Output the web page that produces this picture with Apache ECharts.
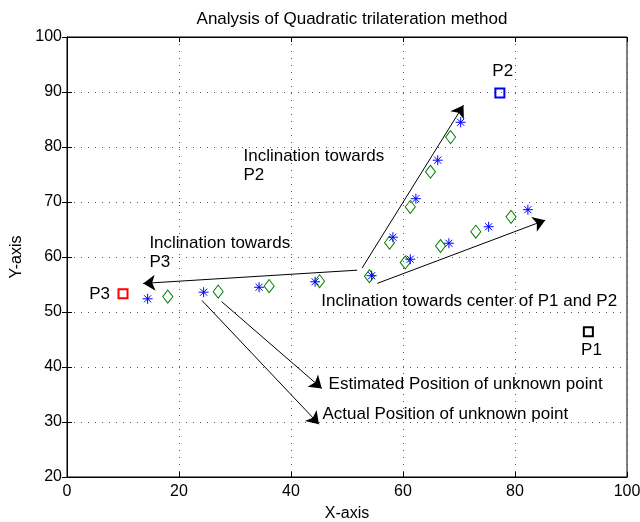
<!DOCTYPE html>
<html><head><meta charset="utf-8">
<script src="https://cdn.jsdelivr.net/npm/echarts@6/dist/echarts.min.js"></script>
<style>html,body{margin:0;padding:0;background:#fff}#c{width:640px;height:522px}</style>
</head><body><div id="c"></div>
<script>
// ---- data ----
const actualPos = [[14.4,52.4],[24.4,53.6],[34.3,54.5],[44.3,55.5],[54.4,56.6],
  [58.2,63.6],[62.3,70.6],[66.2,77.6],[70.3,84.5],
  [61.3,59.6],[68.2,62.5],[75.3,65.5],[82.3,68.6]];
const estimatedPos = [[18.0,52.8],[27.0,53.7],[36.1,54.7],[45.1,55.6],[54.0,56.5],
  [57.6,62.6],[61.3,69.1],[64.9,75.5],[68.5,81.8],
  [60.4,59.0],[66.7,62.0],[73.0,64.6],[79.3,67.3]];
const anchorP1 = [[93.1,46.4]];
const anchorP2 = [[77.3,89.8]];
const anchorP3 = [[10.0,53.3]];
const arrowLines = [
  [[52.7,58.0],[70.8,87.6]],
  [[51.8,57.6],[13.6,55.2]],
  [[55.4,55.2],[85.4,66.7]],
  [[27.6,51.9],[45.5,36.1]],
  [[24.1,52.1],[45.0,29.6]]
];
const noteTexts = ['Inclination towards\nP2','Inclination towards\nP3','Inclination towards center of P1 and P2',
  'Estimated Position of unknown point','Actual Position of unknown point'];
const notePos = [[31.6,80.0],[14.8,64.2],[45.5,53.5],[46.8,38.4],[45.7,33.1]];
const pointNames = ['P2','P1','P3'];
const pointNamePos = [[77.9,93.6],[93.75,42.9],[5.9,53.1]];
const xTicks = {min:0,max:100,interval:20};
const yTicks = {min:20,max:100,interval:10};

// ---- chart ----
const FONT = 'Liberation Sans';
const FS = 16;
const NFS = 17;
const chart = echarts.init(document.getElementById('c'), null, {renderer:'canvas'});
const splitStyle = {show:true, lineStyle:{color:'#555', width:1, type:[1,6]}};
const tick = {show:true, inside:true, length:5, lineStyle:{color:'#000'}};
const star = 'path://M0,-10L0,10M-10,0L10,0M-7.07,-7.07L7.07,7.07M-7.07,7.07L7.07,-7.07';

const noteData = noteTexts.map((t,i)=>({value:[notePos[i][0],notePos[i][1]], label:{formatter:t}}));
const nameData = pointNames.map((t,i)=>({value:[pointNamePos[i][0],pointNamePos[i][1]], label:{formatter:t}}));

chart.setOption({
  animation:false,
  backgroundColor:'#fff',
  title:{text:'Analysis of Quadratic trilateration method', left:347, top:6, textAlign:'center',
    textStyle:{fontFamily:FONT, fontSize:17, fontWeight:'normal', color:'#000'}},
  grid:{left:67, right:13, top:37, bottom:45, show:true, borderColor:'#000', borderWidth:1,
    containLabel:false, outerBoundsMode:'none'},
  xAxis:[
    {type:'value', min:xTicks.min, max:xTicks.max, interval:xTicks.interval, position:'bottom',
     name:'X-axis', nameLocation:'middle', nameGap:29,
     nameTextStyle:{fontFamily:FONT, fontSize:FS, color:'#000'},
     axisLine:{show:true, lineStyle:{color:'#000'}}, axisTick:tick,
     axisLabel:{fontFamily:FONT, fontSize:FS, color:'#000', margin:7}, splitLine:splitStyle},
    {type:'value', min:xTicks.min, max:xTicks.max, interval:xTicks.interval, position:'top',
     axisLine:{show:true, lineStyle:{color:'#000'}}, axisTick:tick, axisLabel:{show:false}, splitLine:{show:false}}
  ],
  yAxis:[
    {type:'value', min:yTicks.min, max:yTicks.max, interval:yTicks.interval, position:'left',
     name:'Y-axis', nameLocation:'middle', nameGap:40,
     nameTextStyle:{fontFamily:FONT, fontSize:FS, color:'#000'},
     axisLine:{show:true, lineStyle:{color:'#000'}}, axisTick:tick,
     axisLabel:{fontFamily:FONT, fontSize:FS, color:'#000', margin:5}, splitLine:splitStyle},
    {type:'value', min:yTicks.min, max:yTicks.max, interval:yTicks.interval, position:'right',
     axisLine:{show:true, lineStyle:{color:'#000'}}, axisTick:tick, axisLabel:{show:false}, splitLine:{show:false}}
  ],
  series:[
    {type:'lines', coordinateSystem:'cartesian2d', polyline:false,
     symbol:['none','arrow'], symbolSize:[0,12],
     lineStyle:{color:'#000', width:1, opacity:1},
     data:arrowLines.map(c=>({coords:c})), z:3},
    {type:'scatter', name:'Estimated', data:estimatedPos, symbol:'diamond', symbolSize:[10,13],
     itemStyle:{color:'rgba(0,0,0,0)', borderColor:'#008000', borderWidth:1, opacity:1}, z:4},
    {type:'scatter', name:'Actual', data:actualPos, symbol:star, symbolSize:10,
     itemStyle:{color:'#0000ff', borderColor:'#0000ff', borderWidth:1, opacity:1}, z:5},
    {type:'scatter', data:anchorP3, symbol:'rect', symbolSize:9,
     itemStyle:{color:'rgba(0,0,0,0)', borderColor:'#ff0000', borderWidth:2, opacity:1}},
    {type:'scatter', data:anchorP2, symbol:'rect', symbolSize:9,
     itemStyle:{color:'rgba(0,0,0,0)', borderColor:'#0000ff', borderWidth:2, opacity:1}},
    {type:'scatter', data:anchorP1, symbol:'rect', symbolSize:9,
     itemStyle:{color:'rgba(0,0,0,0)', borderColor:'#000', borderWidth:2, opacity:1}},
    {type:'scatter', data:noteData, symbol:'circle', symbolSize:1, silent:true,
     itemStyle:{color:'rgba(0,0,0,0)', opacity:1},
     label:{show:true, position:[0,0], align:'left', verticalAlign:'top', lineHeight:19,
       fontFamily:FONT, fontSize:NFS, color:'#000'}},
    {type:'scatter', data:nameData, symbol:'circle', symbolSize:1, silent:true,
     itemStyle:{color:'rgba(0,0,0,0)', opacity:1},
     label:{show:true, position:[0,0], align:'center', verticalAlign:'middle',
       fontFamily:FONT, fontSize:NFS, color:'#000'}}
  ]
});
</script></body></html>
